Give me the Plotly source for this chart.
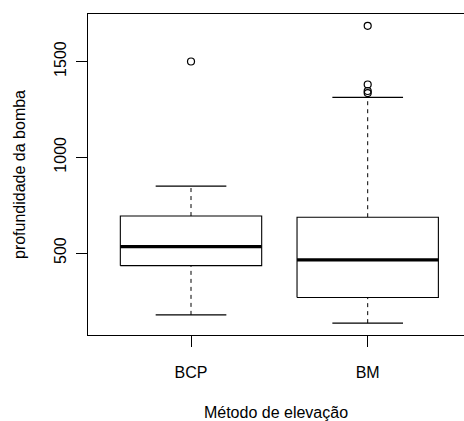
import plotly.graph_objects as go

categories = ["BCP", "BM"]
lower_whisker = [177, 134]
q1 = [434, 268]
median = [533, 464]
q3 = [693, 687]
upper_whisker = [849, 1313]
outliers = [[1500], [1686, 1380, 1346, 1335]]

y_range = [72, 1748]
x_range = [0.417, 2.545]
yticks = [500, 1000, 1500]

HALF_BOX = 0.4
HALF_CAP = 0.2
FONT = "Liberation Sans, Arial, Helvetica, sans-serif"

fig = go.Figure()
for i, cat in enumerate(categories):
    c = i + 1
    # whiskers (dashed)
    fig.add_trace(go.Scatter(
        x=[c, c, None, c, c],
        y=[lower_whisker[i], q1[i], None, q3[i], upper_whisker[i]],
        mode="lines", line=dict(color="black", width=1, dash="4px,4px"),
        hoverinfo="skip", showlegend=False))
    # caps
    fig.add_trace(go.Scatter(
        x=[c - HALF_CAP, c + HALF_CAP, None, c - HALF_CAP, c + HALF_CAP],
        y=[lower_whisker[i], lower_whisker[i], None, upper_whisker[i], upper_whisker[i]],
        mode="lines", line=dict(color="black", width=1.3),
        hoverinfo="skip", showlegend=False))
    # box
    fig.add_trace(go.Scatter(
        x=[c - HALF_BOX, c + HALF_BOX, c + HALF_BOX, c - HALF_BOX, c - HALF_BOX],
        y=[q1[i], q1[i], q3[i], q3[i], q1[i]],
        mode="lines", line=dict(color="black", width=1.1),
        fill="toself", fillcolor="white",
        hoverinfo="skip", showlegend=False))
    # median
    fig.add_trace(go.Scatter(
        x=[c - HALF_BOX, c + HALF_BOX], y=[median[i], median[i]],
        mode="lines", line=dict(color="black", width=3.2),
        hoverinfo="skip", showlegend=False))
    # outliers
    fig.add_trace(go.Scatter(
        x=[c] * len(outliers[i]), y=outliers[i], mode="markers",
        marker=dict(symbol="circle-open", size=7, color="black",
                    line=dict(width=1.2, color="black")),
        hoverinfo="skip", showlegend=False))

fig.update_layout(
    width=464, height=421,
    margin=dict(l=88, r=0, t=14, b=86),
    paper_bgcolor="white", plot_bgcolor="white",
    font=dict(family=FONT, size=16, color="black"),
    showlegend=False,
)
fig.update_xaxes(
    range=x_range, tickmode="array", tickvals=[1, 2], ticktext=categories,
    showgrid=False, zeroline=False, showline=True, linecolor="black",
    linewidth=1, mirror=True, ticks="outside", ticklen=11, tickwidth=1,
    tickcolor="black", ticklabelstandoff=12,
    tickfont=dict(family=FONT, size=16),
    title=dict(text="Método de elevação", standoff=28,
               font=dict(family=FONT, size=16)),
)
fig.update_yaxes(
    range=y_range, tickmode="array", tickvals=yticks,
    ticktext=[str(v) for v in yticks], tickangle=-90,
    showgrid=False, zeroline=False, showline=True, linecolor="black",
    linewidth=1, ticks="outside", ticklen=11, tickwidth=1,
    tickcolor="black", ticklabelstandoff=4,
    tickfont=dict(family=FONT, size=16),
    title=dict(text="profundidade da bomba", standoff=21,
               font=dict(family=FONT, size=16)),
)

fig.write_html("out.html")
